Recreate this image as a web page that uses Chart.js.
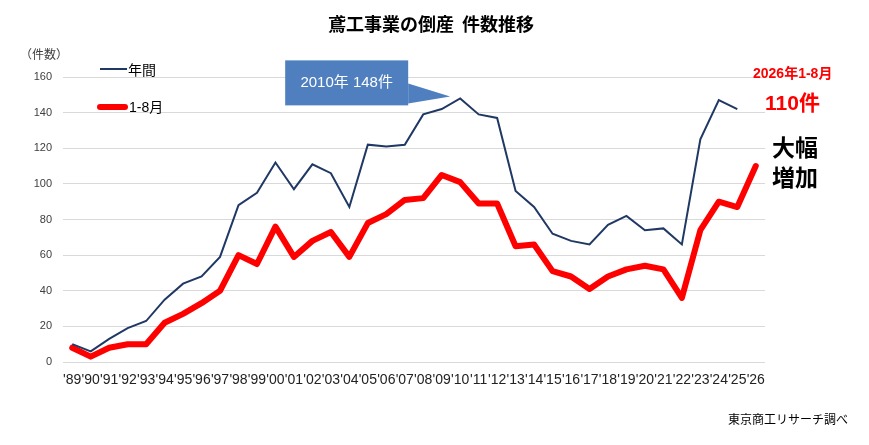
<!DOCTYPE html>
<html lang="ja">
<head>
<meta charset="utf-8">
<title>鳶工事業の倒産 件数推移</title>
<script src="https://cdn.jsdelivr.net/npm/chart.js@4/dist/chart.umd.min.js"></script>
<style>
  body { margin: 0; background: #fff; }
  #wrap { width: 869px; height: 445px; }
</style>
</head>
<body>
<div id="wrap"><canvas id="chart" width="869" height="445"></canvas></div>
<script>
const years = ["'89", "'90", "'91", "'92", "'93", "'94", "'95", "'96", "'97", "'98", "'99",
  "'00", "'01", "'02", "'03", "'04", "'05", "'06", "'07", "'08", "'09", "'10", "'11", "'12",
  "'13", "'14", "'15", "'16", "'17", "'18", "'19", "'20", "'21", "'22", "'23", "'24", "'25", "'26"];

// 年間
const annual = [10, 6, 13, 19, 23, 35, 44, 48, 59, 88, 95, 112, 97, 111, 106, 87, 122, 121, 122,
  139, 142, 148, 139, 137, 96, 87, 72, 68, 66, 77, 82, 74, 75, 66, 125, 147, 142, null];

// 1-8月
const janAug = [8, 3, 8, 10, 10, 22, 27, 33, 40, 60, 55, 76, 59, 68, 73, 59, 78, 83, 91, 92,
  105, 101, 89, 89, 65, 66, 51, 48, 41, 48, 52, 54, 52, 36, 74, 90, 87, 110];

const yTicks = [0, 20, 40, 60, 80, 100, 120, 140, 160];

const NAVY = '#203864';
const RED = '#ff0000';
const JP = "'Noto Sans CJK JP', sans-serif";
const LAT = "'Liberation Sans', 'Noto Sans CJK JP', sans-serif";

// titles, legend, callout and notes
const extras = {
  id: 'extras',
  afterDraw: (c) => {
    const { ctx, chartArea, scales } = c;
    const x = scales.x;
    const y = scales.y;
    ctx.save();
    ctx.textBaseline = 'middle';

    ctx.fillStyle = '#000';
    ctx.font = `bold 18px ${JP}`;
    ctx.textAlign = 'center';
    ctx.fillText('鳶工事業の倒産  件数推移', 431, 24);

    ctx.fillStyle = '#404040';
    ctx.font = `12px ${JP}`;
    ctx.textAlign = 'left';
    ctx.fillText('（件数）', 20, 54);

    // legend
    ctx.strokeStyle = NAVY;
    ctx.lineWidth = 2;
    ctx.beginPath();
    ctx.moveTo(100, 69);
    ctx.lineTo(127, 69);
    ctx.stroke();
    ctx.strokeStyle = RED;
    ctx.lineWidth = 6;
    ctx.lineCap = 'round';
    ctx.beginPath();
    ctx.moveTo(100, 107);
    ctx.lineTo(125, 107);
    ctx.stroke();
    ctx.fillStyle = '#000';
    ctx.font = `14px ${JP}`;
    ctx.fillText('年間', 128, 70);
    ctx.font = `14px ${LAT}`;
    ctx.fillText('1-8月', 129, 108);

    // callout for the 2010 peak
    const i10 = years.indexOf("'10");
    const tipX = x.getPixelForValue(i10) - 10;
    const tipY = y.getPixelForValue(annual[i10]) - 2;
    const right = tipX - 42;
    const left = right - 123;
    const top = tipY - 36;
    const bottom = top + 45;
    ctx.fillStyle = '#4f7fbe';
    ctx.fillRect(left, top, right - left, bottom - top);
    ctx.beginPath();
    ctx.moveTo(right, top + 23);
    ctx.lineTo(tipX, tipY);
    ctx.lineTo(right, bottom - 2);
    ctx.closePath();
    ctx.fill();
    ctx.fillStyle = '#fff';
    ctx.font = `15px ${LAT}`;
    ctx.textAlign = 'center';
    ctx.fillText(`2010年 ${annual[i10]}件`, (left + right) / 2, top + 22);

    // right-hand notes
    const rx = chartArea.right;
    ctx.textAlign = 'left';
    ctx.fillStyle = RED;
    ctx.font = `bold 14px ${LAT}`;
    ctx.fillText('2026年1-8月', rx - 12, 74);
    ctx.font = `bold 21px ${LAT}`;
    ctx.fillText(`${janAug[janAug.length - 1]}件`, rx, 104);
    ctx.fillStyle = '#000';
    ctx.font = `bold 23px ${JP}`;
    ctx.fillText('大幅', rx + 7, 147);
    ctx.fillText('増加', rx + 7, 177);

    ctx.fillStyle = '#000';
    ctx.font = `12px ${JP}`;
    ctx.fillText('東京商工リサーチ調べ', 728, 419);
    ctx.restore();
  },
};

// eslint-disable-next-line no-undef, no-unused-vars
const chart = new Chart(document.getElementById('chart'), {
  type: 'line',
  data: {
    labels: years,
    datasets: [
      {
        label: '年間',
        data: annual,
        borderColor: NAVY,
        borderWidth: 2,
        pointRadius: 0,
        tension: 0,
        spanGaps: false,
      },
      {
        label: '1-8月',
        data: janAug,
        borderColor: RED,
        borderWidth: 6,
        borderJoinStyle: 'round',
        borderCapStyle: 'round',
        pointRadius: 0,
        tension: 0,
      },
    ],
  },
  options: {
    responsive: false,
    animation: false,
    layout: {
      padding: { top: 77, right: 104, left: 0, bottom: 0 },
    },
    plugins: {
      legend: { display: false },
      tooltip: { enabled: false },
    },
    scales: {
      x: {
        offset: true,
        grid: { display: false },
        border: { display: false },
        ticks: {
          autoSkip: false,
          maxRotation: 0,
          minRotation: 0,
          padding: 2,
          color: '#222',
          font: { family: LAT, size: 14 },
        },
        afterFit: (s) => { s.height = 83; },
      },
      y: {
        min: 0,
        max: 160,
        afterBuildTicks: (s) => { s.ticks = yTicks.map((v) => ({ value: v })); },
        grid: { color: '#d9d9d9', drawTicks: false },
        border: { display: false },
        ticks: {
          padding: 11,
          color: '#404040',
          font: { family: LAT, size: 11 },
        },
        afterFit: (s) => { s.width = 63; },
      },
    },
  },
  plugins: [extras],
});
</script>
</body>
</html>
